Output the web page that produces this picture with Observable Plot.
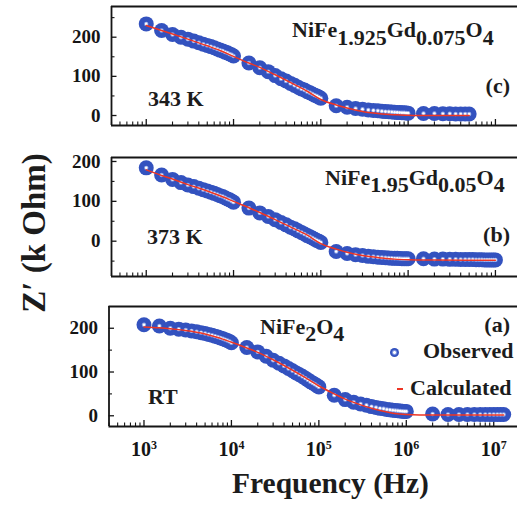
<!DOCTYPE html>
<html><head><meta charset="utf-8">
<script src="https://cdn.jsdelivr.net/npm/d3@7"></script>
<script src="https://cdn.jsdelivr.net/npm/@observablehq/plot@0.6"></script>
<style>
body{margin:0;background:#fff;}
#chart{position:relative;width:517px;height:508px;overflow:hidden;background:#fff;font-family:"Liberation Serif","Times New Roman",serif;font-weight:bold;color:#1c1c1c;}
.p{position:absolute;left:0;}
.t{position:absolute;white-space:nowrap;line-height:1;z-index:2;}
.f{transform:scaleX(1.1);transform-origin:left center;}
.f .s{position:relative;top:7.5px;}
</style></head><body><div id="chart"></div>
<script>
// ---------- data ----------
const freqD1 = [1000,1500,2000,2500,3000,3500,4000,4500,5000,5500,6000,6500,7000,7500,8000,8500,9000,9500,10000];
const freqD2 = [15000,20000,25000,30000,35000,40000,45000,50000,55000,60000,65000,70000,75000,80000,85000,90000,95000,100000];
const freqD3 = [150000,200000,250000,300000,350000,400000,450000,500000,550000,600000,650000,700000,750000,800000,850000,900000,950000,1000000];
const freqC4 = [1500000,2000000,2500000,3000000,3500000,4000000,4500000,5000000];
const freqB4 = [1500000,2000000,2500000,3000000,3500000,4000000,4500000,5000000,5500000,6000000,6500000,7000000,7500000,8000000,8500000,9000000,9500000,10000000];
const freqA4 = [2000000,3000000,4000000,5000000,6000000,7000000,8000000,9000000,10000000,11000000,12000000,13000000];

// Observed Z' (k Ohm)
const obsC = [234,217,207,200,195,190,186,182,179,176,173,170,167,165,162,160,157,155,152,
  134,122,112,102,94,88,82,77,72,68,65,61,58,55,52,50,47,44,
  25,21,18,16,14,13,12,11,10,9.5,9,8.5,8,7.5,7,7,6.5,6,
  5,5,4.5,4.5,4,4,4,4];
const obsB = [184,166,155,147,141,137,133,129,126,123,120,117,114,112,109,106,104,101,98,
  83,71,62,54,47,41,35,31,26,22,18,14,11,8,5,2,0,-3,
  -26,-31,-34,-36,-38,-39,-40,-41,-41.5,-42,-42.5,-43,-43,-43.5,-44,-44,-44,-44,
  -44,-45,-45,-45.5,-45.5,-46,-46,-46,-46,-46.5,-46.5,-46.5,-47,-47,-47,-47,-47,-47];
const obsA = [208,205,200,198,196,194,192,190,188,186,184,182,180,178,176,174,172,170,167,
  156,146,136,127,120,114,108,103,98,94,90,86,82,78,75,72,69,66,
  47,37,31,27,24,21,19,17,16,14.5,13.5,12.5,12,11.5,11,10.5,10,10,
  4,3,3,3,3,3,3,3,3,3,3,3];

// Calculated curves
const calcFreqC = [1000,1500,2000,3000,5000,7000,10000,15000,20000,30000,50000,70000,100000,150000,200000,300000,500000,700000,1000000,2000000,5000000];
const calcC = [230,217,208,195,178,166,151,134,123,104,79,62,41,27,19,10,4,2,0.5,0,0];
const calcFreqB = [1000,1500,2000,3000,5000,7000,10000,15000,20000,30000,50000,70000,100000,150000,200000,300000,500000,700000,1000000,2000000,5000000,10000000];
const calcB = [179,165,156,142,126,114,100,84,72,54,31,15,-6,-20,-28,-36,-42,-45,-46.5,-47.5,-48,-48];
const calcFreqA = [1000,1500,2000,3000,5000,7000,10000,15000,20000,30000,50000,70000,100000,150000,200000,300000,500000,700000,1000000,2000000,5000000,13000000];
const calcA = [203,201,199,195,187,179,168,155,145,128,104,87,68,50,38,25,12,6,3,1.5,1.5,1.5];

// Ticks
const xMajor = [1000,10000,100000,1000000,10000000];
const xTickLabels = ["10^3","10^4","10^5","10^6","10^7"];
const yMajor = [0,100,200];
const yMinorC = [50,150,250];
const yMinorB = [-50,50,150];
const yMinorA = [50,150];

// ---------- drawing ----------
const ink = "#151515", ball = "#3352bf", red = "#ee3524";
const FONT = "Liberation Serif, Times New Roman, serif";
const chart = document.getElementById("chart");

function panel(o) {
  const W = 517;
  const fw = W - o.ml, fh = o.height - o.mt - o.mb;
  const obsData = o.freq.map((f, i) => ({f, v: o.obs[i]}));
  const calcData = o.calcFreq.map((f, i) => ({f, v: o.calc[i]}));
  const allTicks = d3.scaleLog().domain(o.xDomain).ticks();
  const xMinor = allTicks.filter(t => !xMajor.some(m => Math.abs(m - t) / m < 1e-6));
  const marks = [
    Plot.ruleX(xMajor, {insetTop: fh - 6, stroke: ink, strokeWidth: 1.3}),
    Plot.ruleX(xMinor, {insetTop: fh - 3.5, stroke: ink, strokeWidth: 1.1}),
    Plot.ruleY(yMajor, {insetRight: fw - 5.5, stroke: ink, strokeWidth: 1.3}),
    Plot.ruleY(o.yMinor, {insetRight: fw - 3.5, stroke: ink, strokeWidth: 1.1}),
    Plot.dot(obsData, {x: "f", y: "v", r: 7.5, fill: ball}),
    Plot.dot(obsData, {x: "f", y: "v", r: 2.2, fill: "#8ea3e6"}),
    Plot.dot(obsData, {x: "f", y: "v", r: 1.3, fill: "#ffffff"}),
    Plot.line(calcData, {x: "f", y: "v", stroke: red, strokeWidth: 1.5, curve: "monotone-x"}),
    Plot.ruleY([o.yDomain[1]], {stroke: ink, strokeWidth: 1.8}),
    Plot.ruleY([o.yDomain[0]], {stroke: ink, strokeWidth: 1.8}),
    Plot.ruleX([o.xDomain[0]], {stroke: ink, strokeWidth: 1.8}),
    Plot.axisY({ticks: yMajor, tickSize: 0, tickPadding: 11, tickFormat: d => String(d),
      fontSize: 19, fontWeight: "bold", fontFamily: FONT, fill: ink, label: null})
  ];
  if (o.xAxis) {
    marks.push(Plot.axisX({ticks: xMajor, tickSize: 0, tickPadding: 15,
      tickFormat: d => xTickLabels[xMajor.indexOf(d)],
      fontSize: 20, fontWeight: "bold", fontFamily: FONT, fill: ink, label: null}));
  }
  const svg = Plot.plot({
    width: W, height: o.height,
    marginLeft: o.ml, marginRight: 0, marginTop: o.mt, marginBottom: o.mb,
    x: {type: "log", domain: o.xDomain, axis: o.xAxis ? undefined : null},
    y: {domain: o.yDomain},
    style: {background: "transparent", overflow: "visible"},
    marks
  });
  if (o.xAxis) {
    d3.select(svg).selectAll('g[aria-label="x-axis tick label"] text').each(function () {
      const s = d3.select(this);
      const parts = s.text().split("^");
      s.text(parts[0]);
      s.append("tspan").attr("dy", "-0.55em").attr("font-size", "0.6em").text(parts[1]);
    });
  }
  svg.classList.add("p");
  svg.style.top = o.top + "px";
  chart.appendChild(svg);
}

panel({top: 0, height: 130, mt: 6, mb: 5, ml: 111, xDomain: [400, 1.79e7], yDomain: [-25.5, 278.4],
  freq: [...freqD1, ...freqD2, ...freqD3, ...freqC4], obs: obsC, calcFreq: calcFreqC, calc: calcC, yMinor: yMinorC});
panel({top: 150, height: 130, mt: 7, mb: 4, ml: 111, xDomain: [400, 1.79e7], yDomain: [-88.6, 210],
  freq: [...freqD1, ...freqD2, ...freqD3, ...freqB4], obs: obsB, calcFreq: calcFreqB, calc: calcB, yMinor: yMinorB});
panel({top: 300, height: 208, mt: 6, mb: 82, ml: 108.5, xDomain: [398, 1.87e7], yDomain: [-24.5, 249.7],
  freq: [...freqD1, ...freqD2, ...freqD3, ...freqA4], obs: obsA, calcFreq: calcFreqA, calc: calcA, yMinor: yMinorA, xAxis: true});

// ---------- annotations ----------
function addText(html, style, cls) {
  const d = document.createElement("div");
  d.className = "t" + (cls ? " " + cls : "");
  d.innerHTML = html;
  Object.assign(d.style, style);
  chart.appendChild(d);
  return d;
}
addText("NiFe<span class='s'>1.925</span>Gd<span class='s'>0.075</span>O<span class='s'>4</span>", {left: "292px", top: "20.3px", fontSize: "20px"}, "f");
addText("(c)", {right: "7px", top: "74.6px", fontSize: "22px"});
addText("343 K", {left: "148px", top: "87.6px", fontSize: "22px"});
addText("NiFe<span class='s'>1.95</span>Gd<span class='s'>0.05</span>O<span class='s'>4</span>", {left: "325px", top: "167.5px", fontSize: "20px"}, "f");
addText("(b)", {right: "7px", top: "224.3px", fontSize: "22px"});
addText("373 K", {left: "147px", top: "225.6px", fontSize: "22px"});
addText("NiFe<span class='s'>2</span>O<span class='s'>4</span>", {left: "260px", top: "316.5px", fontSize: "20px"}, "f");
addText("(a)", {right: "7px", top: "314px", fontSize: "22px"});
addText("RT", {left: "148px", top: "385.6px", fontSize: "22px"});
addText("Observed", {left: "423px", top: "339.8px", fontSize: "22px"});
addText("Calculated", {left: "410px", top: "376.6px", fontSize: "22px"});
addText("", {left: "389.5px", top: "347.5px", width: "9px", height: "9px", borderRadius: "50%",
  background: "radial-gradient(circle, #ffffff 0 16%, #8ea3e6 28%, " + ball + " 50%)"});
addText("", {left: "397px", top: "387.5px", width: "6px", height: "2px", background: red});
addText("Frequency (Hz)", {left: "232px", top: "469.3px", fontSize: "29.5px"});
addText("Z′ (k Ohm)", {left: "34px", top: "232.5px", fontSize: "33px", transform: "translate(-50%,-50%) rotate(-90deg)"});
</script>
</body></html>
